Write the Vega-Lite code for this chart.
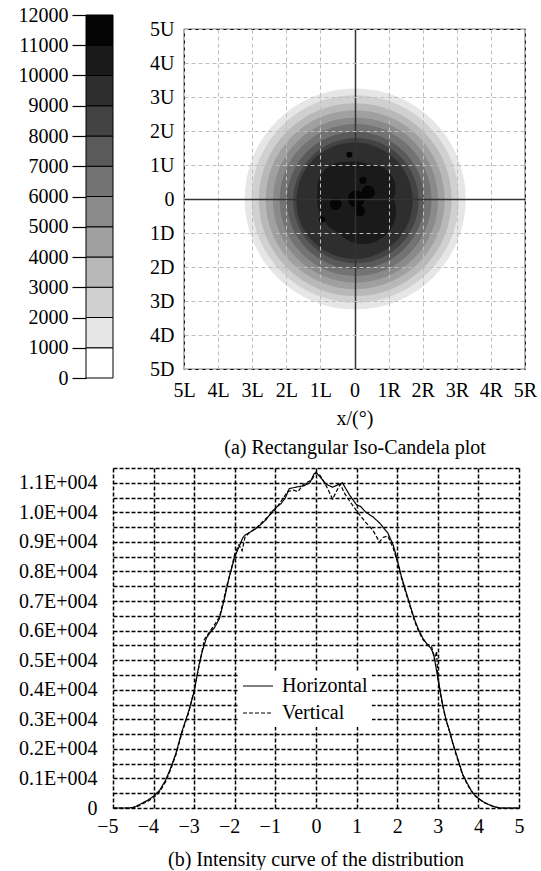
{
"$schema": "https://vega.github.io/schema/vega-lite/v6.json",
"background": "white",
"padding": {"left": 18, "top": 5, "right": 5, "bottom": 0},
"config": {
  "font": "Liberation Serif",
  "view": {"stroke": null},
  "axis": {"labelFontSize": 20, "labelColor": "black", "titleFontSize": 20, "titleFontWeight": "normal", "titleColor": "black", "labelFont": "Liberation Serif", "titleFont": "Liberation Serif", "labelOverlap": false, "labelBound": false, "labelFlush": false},
  "title": {"fontSize": 20, "fontWeight": "normal", "color": "black", "font": "Liberation Serif"},
  "legend": {"labelFont": "Liberation Serif"}
},
"datasets": {
  "none": [],
  "bar": [
    {"lo": 0, "hi": 1000, "level": 0},
    {"lo": 1000, "hi": 2000, "level": 1000},
    {"lo": 2000, "hi": 3000, "level": 2000},
    {"lo": 3000, "hi": 4000, "level": 3000},
    {"lo": 4000, "hi": 5000, "level": 4000},
    {"lo": 5000, "hi": 6000, "level": 5000},
    {"lo": 6000, "hi": 7000, "level": 6000},
    {"lo": 7000, "hi": 8000, "level": 7000},
    {"lo": 8000, "hi": 9000, "level": 8000},
    {"lo": 9000, "hi": 10000, "level": 9000},
    {"lo": 10000, "hi": 11000, "level": 10000},
    {"lo": 11000, "hi": 12000, "level": 11000}
  ],
  "rings": [
    {"level": 1000, "cx": 0.02, "cy": 0.0, "r": 3.67},
    {"level": 2000, "cx": 0.02, "cy": 0.0, "r": 3.44},
    {"level": 3000, "cx": 0.02, "cy": -0.02, "r": 3.2},
    {"level": 4000, "cx": 0.02, "cy": -0.02, "r": 2.97},
    {"level": 5000, "cx": 0.03, "cy": -0.03, "r": 2.74},
    {"level": 6000, "cx": 0.03, "cy": -0.03, "r": 2.52},
    {"level": 7000, "cx": 0.03, "cy": -0.04, "r": 2.28},
    {"level": 8000, "cx": 0.04, "cy": -0.05, "r": 2.08},
    {"level": 9000, "cx": 0.0, "cy": -0.05, "r": 1.93},
    {"level": 10000, "cx": 0.0, "cy": 0.0, "r": 1.25},
    {"level": 10000, "cx": 0.25, "cy": -0.35, "r": 1.1},
    {"level": 10000, "cx": -0.3, "cy": 0.3, "r": 0.9},
    {"level": 10000, "cx": 0.5, "cy": 0.3, "r": 0.8},
    {"level": 11000, "cx": 0.05, "cy": 0.0, "r": 0.28},
    {"level": 11000, "cx": 0.4, "cy": 0.2, "r": 0.22},
    {"level": 11000, "cx": -0.55, "cy": -0.15, "r": 0.2},
    {"level": 11000, "cx": 0.15, "cy": -0.35, "r": 0.18},
    {"level": 11000, "cx": -0.15, "cy": 1.3, "r": 0.1},
    {"level": 11000, "cx": -0.95, "cy": -0.6, "r": 0.1},
    {"level": 11000, "cx": 0.25, "cy": 0.55, "r": 0.12}
  ],
  "curves": [
    {"s": "Horizontal", "x": -5, "I": 0}, {"s": "Horizontal", "x": -4.6, "I": 0}, {"s": "Horizontal", "x": -4.45, "I": 40}, {"s": "Horizontal", "x": -4.3, "I": 150}, {"s": "Horizontal", "x": -4.15, "I": 260}, {"s": "Horizontal", "x": -4.0, "I": 400}, {"s": "Horizontal", "x": -3.85, "I": 600}, {"s": "Horizontal", "x": -3.7, "I": 950}, {"s": "Horizontal", "x": -3.58, "I": 1350}, {"s": "Horizontal", "x": -3.45, "I": 1850}, {"s": "Horizontal", "x": -3.3, "I": 2600}, {"s": "Horizontal", "x": -3.13, "I": 3300}, {"s": "Horizontal", "x": -3.0, "I": 3950}, {"s": "Horizontal", "x": -2.88, "I": 4850}, {"s": "Horizontal", "x": -2.8, "I": 5300}, {"s": "Horizontal", "x": -2.7, "I": 5750}, {"s": "Horizontal", "x": -2.6, "I": 5950}, {"s": "Horizontal", "x": -2.5, "I": 6100}, {"s": "Horizontal", "x": -2.38, "I": 6400}, {"s": "Horizontal", "x": -2.26, "I": 7050}, {"s": "Horizontal", "x": -2.14, "I": 7800}, {"s": "Horizontal", "x": -2.0, "I": 8500}, {"s": "Horizontal", "x": -1.89, "I": 8850}, {"s": "Horizontal", "x": -1.8, "I": 9150}, {"s": "Horizontal", "x": -1.73, "I": 9250}, {"s": "Horizontal", "x": -1.6, "I": 9350}, {"s": "Horizontal", "x": -1.48, "I": 9450}, {"s": "Horizontal", "x": -1.35, "I": 9600}, {"s": "Horizontal", "x": -1.23, "I": 9750}, {"s": "Horizontal", "x": -1.07, "I": 10050}, {"s": "Horizontal", "x": -0.95, "I": 10200}, {"s": "Horizontal", "x": -0.86, "I": 10300}, {"s": "Horizontal", "x": -0.75, "I": 10500}, {"s": "Horizontal", "x": -0.66, "I": 10800}, {"s": "Horizontal", "x": -0.5, "I": 10850}, {"s": "Horizontal", "x": -0.3, "I": 10900}, {"s": "Horizontal", "x": -0.15, "I": 11000}, {"s": "Horizontal", "x": -0.05, "I": 11300}, {"s": "Horizontal", "x": 0, "I": 11350}, {"s": "Horizontal", "x": 0.1, "I": 11200}, {"s": "Horizontal", "x": 0.25, "I": 10950}, {"s": "Horizontal", "x": 0.41, "I": 10850}, {"s": "Horizontal", "x": 0.57, "I": 10950}, {"s": "Horizontal", "x": 0.65, "I": 11000}, {"s": "Horizontal", "x": 0.82, "I": 10600}, {"s": "Horizontal", "x": 1.0, "I": 10250}, {"s": "Horizontal", "x": 1.1, "I": 10200}, {"s": "Horizontal", "x": 1.23, "I": 10000}, {"s": "Horizontal", "x": 1.4, "I": 9850}, {"s": "Horizontal", "x": 1.56, "I": 9650}, {"s": "Horizontal", "x": 1.77, "I": 9300}, {"s": "Horizontal", "x": 1.9, "I": 8900}, {"s": "Horizontal", "x": 2.0, "I": 8400}, {"s": "Horizontal", "x": 2.1, "I": 7850}, {"s": "Horizontal", "x": 2.22, "I": 7300}, {"s": "Horizontal", "x": 2.32, "I": 6850}, {"s": "Horizontal", "x": 2.42, "I": 6400}, {"s": "Horizontal", "x": 2.52, "I": 6050}, {"s": "Horizontal", "x": 2.63, "I": 5750}, {"s": "Horizontal", "x": 2.73, "I": 5550}, {"s": "Horizontal", "x": 2.83, "I": 5400}, {"s": "Horizontal", "x": 2.9, "I": 5200}, {"s": "Horizontal", "x": 2.95, "I": 4800}, {"s": "Horizontal", "x": 3.0, "I": 4400}, {"s": "Horizontal", "x": 3.06, "I": 3950}, {"s": "Horizontal", "x": 3.12, "I": 3500}, {"s": "Horizontal", "x": 3.2, "I": 3000}, {"s": "Horizontal", "x": 3.29, "I": 2600}, {"s": "Horizontal", "x": 3.37, "I": 2200}, {"s": "Horizontal", "x": 3.45, "I": 1850}, {"s": "Horizontal", "x": 3.53, "I": 1500}, {"s": "Horizontal", "x": 3.61, "I": 1150}, {"s": "Horizontal", "x": 3.72, "I": 850}, {"s": "Horizontal", "x": 3.82, "I": 600}, {"s": "Horizontal", "x": 3.9, "I": 450}, {"s": "Horizontal", "x": 4.0, "I": 330}, {"s": "Horizontal", "x": 4.13, "I": 200}, {"s": "Horizontal", "x": 4.27, "I": 110}, {"s": "Horizontal", "x": 4.4, "I": 40}, {"s": "Horizontal", "x": 4.55, "I": 0}, {"s": "Horizontal", "x": 5, "I": 0},
    {"s": "Vertical", "x": -5, "I": 0}, {"s": "Vertical", "x": -4.55, "I": 0}, {"s": "Vertical", "x": -4.42, "I": 40}, {"s": "Vertical", "x": -4.3, "I": 120}, {"s": "Vertical", "x": -4.15, "I": 220}, {"s": "Vertical", "x": -4.0, "I": 350}, {"s": "Vertical", "x": -3.85, "I": 550}, {"s": "Vertical", "x": -3.7, "I": 900}, {"s": "Vertical", "x": -3.58, "I": 1300}, {"s": "Vertical", "x": -3.45, "I": 1800}, {"s": "Vertical", "x": -3.3, "I": 2550}, {"s": "Vertical", "x": -3.13, "I": 3250}, {"s": "Vertical", "x": -3.0, "I": 4000}, {"s": "Vertical", "x": -2.88, "I": 4800}, {"s": "Vertical", "x": -2.75, "I": 5700}, {"s": "Vertical", "x": -2.6, "I": 6000}, {"s": "Vertical", "x": -2.45, "I": 6300}, {"s": "Vertical", "x": -2.38, "I": 6450}, {"s": "Vertical", "x": -2.3, "I": 6900}, {"s": "Vertical", "x": -2.2, "I": 7500}, {"s": "Vertical", "x": -2.1, "I": 8000}, {"s": "Vertical", "x": -2.0, "I": 8600}, {"s": "Vertical", "x": -1.9, "I": 8900}, {"s": "Vertical", "x": -1.82, "I": 8700}, {"s": "Vertical", "x": -1.75, "I": 9150}, {"s": "Vertical", "x": -1.65, "I": 9300}, {"s": "Vertical", "x": -1.55, "I": 9400}, {"s": "Vertical", "x": -1.45, "I": 9500}, {"s": "Vertical", "x": -1.3, "I": 9700}, {"s": "Vertical", "x": -1.15, "I": 9900}, {"s": "Vertical", "x": -1.0, "I": 10100}, {"s": "Vertical", "x": -0.85, "I": 10400}, {"s": "Vertical", "x": -0.7, "I": 10700}, {"s": "Vertical", "x": -0.55, "I": 10750}, {"s": "Vertical", "x": -0.45, "I": 10700}, {"s": "Vertical", "x": -0.3, "I": 10950}, {"s": "Vertical", "x": -0.1, "I": 11100}, {"s": "Vertical", "x": 0, "I": 11350}, {"s": "Vertical", "x": 0.1, "I": 11250}, {"s": "Vertical", "x": 0.25, "I": 10900}, {"s": "Vertical", "x": 0.41, "I": 10450}, {"s": "Vertical", "x": 0.5, "I": 10700}, {"s": "Vertical", "x": 0.6, "I": 10950}, {"s": "Vertical", "x": 0.7, "I": 10650}, {"s": "Vertical", "x": 0.82, "I": 10400}, {"s": "Vertical", "x": 1.0, "I": 10050}, {"s": "Vertical", "x": 1.23, "I": 9650}, {"s": "Vertical", "x": 1.4, "I": 9400}, {"s": "Vertical", "x": 1.56, "I": 9000}, {"s": "Vertical", "x": 1.65, "I": 9150}, {"s": "Vertical", "x": 1.77, "I": 9200}, {"s": "Vertical", "x": 1.9, "I": 8800}, {"s": "Vertical", "x": 2.0, "I": 8350}, {"s": "Vertical", "x": 2.1, "I": 7800}, {"s": "Vertical", "x": 2.22, "I": 7250}, {"s": "Vertical", "x": 2.32, "I": 6800}, {"s": "Vertical", "x": 2.42, "I": 6350}, {"s": "Vertical", "x": 2.52, "I": 6000}, {"s": "Vertical", "x": 2.63, "I": 5700}, {"s": "Vertical", "x": 2.73, "I": 5550}, {"s": "Vertical", "x": 2.8, "I": 5500}, {"s": "Vertical", "x": 2.85, "I": 5450}, {"s": "Vertical", "x": 2.92, "I": 5000}, {"s": "Vertical", "x": 2.97, "I": 5300}, {"s": "Vertical", "x": 3.0, "I": 4450}, {"s": "Vertical", "x": 3.06, "I": 3900}, {"s": "Vertical", "x": 3.12, "I": 3450}, {"s": "Vertical", "x": 3.2, "I": 2980}, {"s": "Vertical", "x": 3.29, "I": 2580}, {"s": "Vertical", "x": 3.37, "I": 2180}, {"s": "Vertical", "x": 3.45, "I": 1800}, {"s": "Vertical", "x": 3.53, "I": 1460}, {"s": "Vertical", "x": 3.61, "I": 1120}, {"s": "Vertical", "x": 3.72, "I": 820}, {"s": "Vertical", "x": 3.82, "I": 580}, {"s": "Vertical", "x": 3.9, "I": 430}, {"s": "Vertical", "x": 4.0, "I": 320}, {"s": "Vertical", "x": 4.13, "I": 190}, {"s": "Vertical", "x": 4.27, "I": 100}, {"s": "Vertical", "x": 4.4, "I": 35}, {"s": "Vertical", "x": 4.55, "I": 0}, {"s": "Vertical", "x": 5, "I": 0}
  ]
},
"spacing": 0,
"resolve": {"legend": {"strokeDash": "independent"}},
"vconcat": [
  {
    "spacing": 8,
    "hconcat": [
      {
        "width": 27,
        "height": 363,
        "data": {"name": "bar"},
        "mark": {"type": "rect", "stroke": "black", "strokeWidth": 1, "xOffset": -27, "x2Offset": -27},
        "encoding": {
          "x": {"datum": 0, "type": "quantitative", "scale": {"domain": [0, 1], "nice": false, "zero": false}, "axis": null},
          "x2": {"datum": 1},
          "y": {"field": "lo", "type": "quantitative", "scale": {"domain": [0, 12000], "nice": false},
                "axis": {"values": [0,1000,2000,3000,4000,5000,6000,7000,8000,9000,10000,11000,12000], "format": "d", "offset": 27, "tickSize": 14, "tickColor": "black", "tickWidth": 1.2, "domain": false, "grid": false, "labelPadding": 4, "labelOverlap": false, "title": null}},
          "y2": {"field": "hi"},
          "color": {"field": "level", "type": "ordinal",
                    "scale": {"domain": [0,1000,2000,3000,4000,5000,6000,7000,8000,9000,10000,11000],
                              "range": ["#ffffff","#e6e6e6","#d0d0d0","#b8b8b8","#a0a0a0","#8a8a8a","#737373","#5a5a5a","#434343","#2e2e2e","#1a1a1a","#050505"]},
                    "legend": null}
        }
      },
      {
        "spacing": 2,
        "vconcat": [
          {"width": 1, "height": 1, "data": {"name": "none"}, "mark": "rect"},
          {
            "width": 341,
            "height": 340,
            "view": {"stroke": "black", "strokeWidth": 1.2},
            "data": {"name": "rings"},
            "mark": {"type": "point", "shape": "circle", "filled": true, "opacity": 1, "strokeWidth": 0},
            "encoding": {
              "x": {"field": "cx", "type": "quantitative", "scale": {"domain": [-5, 5], "nice": false},
                    "axis": {"values": [-5,-4,-3,-2,-1,0,1,2,3,4,5],
                             "labelExpr": "datum.value > 0 ? datum.value + 'R' : (datum.value < 0 ? (-datum.value) + 'L' : '0')",
                             "labelOverlap": false, "labelFlush": false,
                             "grid": true,
                             "gridDash": {"condition": {"test": "datum.value === 0", "value": []}, "value": [4, 3]},
                             "gridColor": {"condition": {"test": "datum.value === 0", "value": "#333333"}, "value": "#bdbdbd"},
                             "gridWidth": {"condition": {"test": "datum.value === 0", "value": 1.5}, "value": 1},
                             "ticks": false, "domain": false,
                             "labelPadding": 11, "title": ["x/(°)", "(a) Rectangular Iso-Candela plot"], "titlePadding": 8, "titleLineHeight": 29, "zindex": 1}},
              "y": {"field": "cy", "type": "quantitative", "scale": {"domain": [-5, 5], "nice": false},
                    "axis": {"values": [-5,-4,-3,-2,-1,0,1,2,3,4,5],
                             "labelExpr": "datum.value > 0 ? datum.value + 'U' : (datum.value < 0 ? (-datum.value) + 'D' : '0')",
                             "labelOverlap": false, "labelFlush": false,
                             "grid": true,
                             "gridDash": {"condition": {"test": "datum.value === 0", "value": []}, "value": [4, 3]},
                             "gridColor": {"condition": {"test": "datum.value === 0", "value": "#333333"}, "value": "#bdbdbd"},
                             "gridWidth": {"condition": {"test": "datum.value === 0", "value": 1.5}, "value": 1},
                             "ticks": false, "domain": false,
                             "labelPadding": 10, "title": null, "zindex": 1}},
              "size": {"field": "r", "type": "quantitative", "scale": {"type": "pow", "exponent": 2, "domain": [0, 5], "range": [0, 90792]}, "legend": null},
              "color": {"field": "level", "type": "ordinal", "legend": null},
              "order": {"field": "level"}
            }
          }
        ]
      }
    ]
  },
  {
    "width": 406,
    "height": 340,
    "data": {"name": "curves"},
    "title": {"text": "(b) Intensity curve of the distribution", "orient": "bottom", "offset": 14},
    "mark": {"type": "line", "color": "black", "strokeWidth": 1.2},
    "encoding": {
      "x": {"field": "x", "type": "quantitative", "scale": {"domain": [-5, 5], "nice": false},
            "axis": {"values": [-5,-4,-3,-2,-1,0,1,2,3,4,5], "grid": true, "gridColor": "black", "gridDash": [4, 2], "gridWidth": 1.5,
                     "domain": false, "ticks": false, "labelPadding": 8, "labelAlign": "right", "labelOffset": 5, "labelOverlap": false, "labelFlush": false, "title": null}},
      "y": {"field": "I", "type": "quantitative", "scale": {"domain": [0, 11500], "nice": false},
            "axis": {"values": [0,500,1000,1500,2000,2500,3000,3500,4000,4500,5000,5500,6000,6500,7000,7500,8000,8500,9000,9500,10000,10500,11000,11500],
                     "labelExpr": "datum.value == 0 ? '0' : (datum.value % 1000 != 0 ? '' : format(datum.value / 10000, '.1f') + 'E+004')",
                     "grid": true, "gridColor": "black", "gridDash": [4, 2], "gridWidth": 1.5, "labelOverlap": false,
                     "domain": false, "ticks": false, "labelPadding": 16, "title": null}},
      "strokeDash": {"field": "s", "type": "nominal",
                     "scale": {"domain": ["Horizontal", "Vertical"], "range": [[1, 0], [4, 2]]},
                     "legend": {"title": null, "orient": "none", "legendX": 125, "legendY": 204, "fillColor": "white", "padding": 4,
                                "symbolType": "stroke", "symbolSize": 900, "symbolStrokeColor": "black", "symbolStrokeWidth": 1.2,
                                "labelFontSize": 20, "labelColor": "black", "labelOffset": 8, "rowPadding": 7, "clipHeight": 20}}
    }
  }
]
}
